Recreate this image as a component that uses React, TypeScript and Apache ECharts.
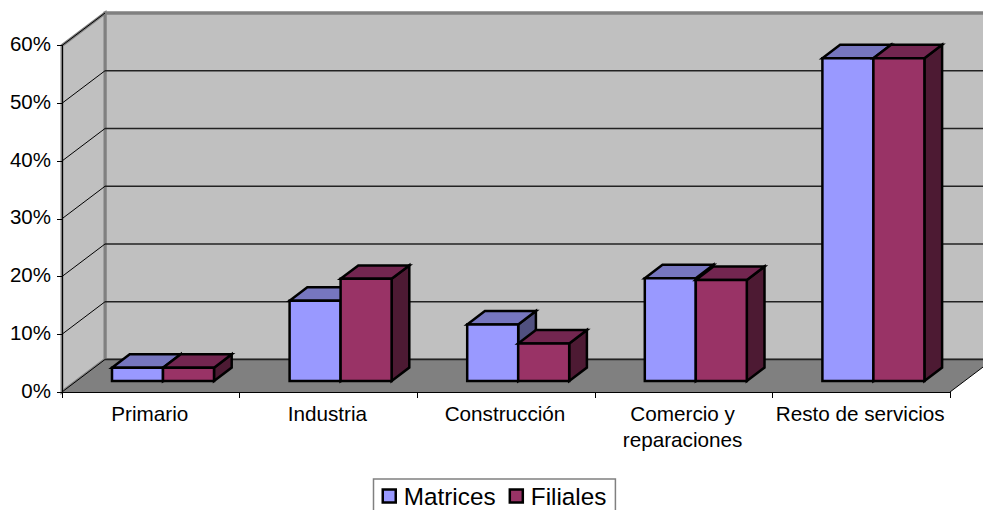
import React, { useEffect, useRef } from "react";
import * as echarts from "echarts";

const categories = ["Primario", "Industria", "Construcción", "Comercio y\nreparaciones", "Resto de servicios"];
const matrices = [2.3, 13.9, 9.8, 17.8, 55.9];
const filiales = [2.3, 17.7, 6.5, 17.5, 55.9];
const gridTicks = [0, 10, 20, 30, 40, 50, 60];

const FONT = "'Liberation Sans', Arial, sans-serif";
const DX = 43;
const DY = 32.5;

const colors = {
  matrices: { front: "#9999ff", top: "#7676bf", side: "#50507f" },
  filiales: { front: "#993366", top: "#732650", side: "#4d1a33" },
};

function wallsItem(params: any, api: any) {
  const c = params.coordSys;
  const l = c.x, r = c.x + c.width, t = c.y, b = c.y + c.height;
  const wall = { fill: "#c0c0c0", stroke: "#808080", lineWidth: 3 };
  return {
    type: "group",
    children: [
      { type: "polygon", shape: { points: [[l + DX, t - DY], [r + DX, t - DY], [r + DX, b - DY], [l + DX, b - DY]] }, style: wall },
      { type: "polygon", shape: { points: [[l, t], [l + DX, t - DY], [l + DX, b - DY], [l, b]] }, style: wall },
      { type: "polygon", shape: { points: [[l, b], [l + DX, b - DY], [r + DX, b - DY], [r, b]] }, style: { fill: "#808080", stroke: "none" } },
    ],
  };
}

function gridItem(params: any, api: any) {
  const c = params.coordSys;
  const v = api.value(1);
  const y = api.coord([0, v])[1];
  const l = c.x, r = c.x + c.width;
  const back = { stroke: v === 60 ? "#808080" : "#222222", lineWidth: v === 60 ? 3 : 1.3 };
  const side = { stroke: "#000000", lineWidth: 1, fill: "none" };
  const children: any[] = [
    { type: "line", shape: { x1: l, y1: y, x2: l + DX, y2: y - DY }, style: side },
  ];
  children.push({ type: "line", shape: { x1: l + DX, y1: y - DY, x2: r + DX, y2: y - DY }, style: back });
  if (v === 0) {
    children.push({ type: "line", shape: { x1: r, y1: y, x2: r + DX, y2: y - DY }, style: side });
  }
  return { type: "group", children };
}

const BAR_W = 51;
const BAR_OFF = 12.2;
const FRONT_DROP = 11;
const BAR_DX = 17.7;
const BAR_DY = 13.4;

function barItem(seriesPos: number, palette: { front: string; top: string; side: string }) {
  return (_params: any, api: any) => {
    const i = api.value(0);
    const v = api.value(1);
    const [cx, yTop0] = api.coord([i, v]);
    const yBase0 = api.coord([i, 0])[1];
    const x = cx + BAR_OFF - BAR_W + BAR_W * seriesPos;
    const yt = yTop0 - FRONT_DROP;
    const yb = yBase0 - FRONT_DROP;
    const edge = { stroke: "#000000", lineWidth: 2.5, lineJoin: "miter" };
    return {
      type: "group",
      children: [
        {
          type: "polygon",
          shape: { points: [[x + BAR_W, yt], [x + BAR_W + BAR_DX, yt - BAR_DY], [x + BAR_W + BAR_DX, yb - BAR_DY], [x + BAR_W, yb]] },
          style: { fill: palette.side, ...edge },
        },
        {
          type: "polygon",
          shape: { points: [[x, yt], [x + BAR_DX, yt - BAR_DY], [x + BAR_W + BAR_DX, yt - BAR_DY], [x + BAR_W, yt]] },
          style: { fill: palette.top, ...edge },
        },
        { type: "rect", shape: { x, y: yt, width: BAR_W, height: yb - yt }, style: { fill: palette.front, ...edge } },
      ],
    };
  };
}

export default function App() {
  const ref = useRef<HTMLDivElement>(null);
  useEffect(() => {
    document.body.style.margin = "0";
    const chart = echarts.init(ref.current!, null, { renderer: "svg" });
    chart.setOption({
      animation: false,
      backgroundColor: "#ffffff",
      grid: { left: 62, width: 888, top: 45.5, height: 346.5 },
      legend: {
        left: 373.5,
        top: 479,
        padding: [5, 9, 7, 8],
        borderColor: "#808080",
        borderWidth: 1.5,
        itemWidth: 13,
        itemHeight: 13,
        itemGap: 13,
        selectedMode: false,
        textStyle: { fontFamily: FONT, fontSize: 24.3, color: "#000000", padding: [0, 0, 0, 3] },
        data: [
          { name: "Matrices", icon: "rect", itemStyle: { color: colors.matrices.front, borderColor: "#000", borderWidth: 2.5 } },
          { name: "Filiales", icon: "rect", itemStyle: { color: colors.filiales.front, borderColor: "#000", borderWidth: 2.5 } },
        ],
      },
      xAxis: {
        type: "category",
        data: categories,
        z: 10,
        axisLine: { lineStyle: { color: "#000000", width: 1 } },
        axisTick: { show: true, length: 6, alignWithLabel: false, lineStyle: { color: "#000000" } },
        axisLabel: { interval: 0, fontFamily: FONT, fontSize: 20.7, color: "#000000", margin: 8, lineHeight: 26, padding: [0, 2, 0, 0] },
      },
      yAxis: {
        type: "value",
        min: 0,
        max: 60,
        interval: 10,
        z: 10,
        axisLine: { show: true, lineStyle: { color: "#000000", width: 1 } },
        axisTick: { show: true, length: 5, lineStyle: { color: "#000000" } },
        splitLine: { show: false },
        axisLabel: { fontFamily: FONT, fontSize: 20.5, color: "#000000", margin: 11, verticalAlign: "bottom", lineHeight: 4, formatter: "{value}%" },
      },
      series: [
        { type: "custom", name: "walls", silent: true, z: 1, data: [[0, 0]], encode: { x: 0, y: 1 }, renderItem: wallsItem },
        { type: "custom", name: "grid", silent: true, z: 2, data: gridTicks.map((t) => [0, t]), encode: { x: 0, y: 1 }, renderItem: gridItem },
        {
          type: "custom", name: "Matrices", silent: true, z: 3,
          itemStyle: { color: colors.matrices.front },
          data: matrices.map((v, i) => [i, v]), encode: { x: 0, y: 1 },
          renderItem: barItem(0, colors.matrices),
        },
        {
          type: "custom", name: "Filiales", silent: true, z: 4,
          itemStyle: { color: colors.filiales.front },
          data: filiales.map((v, i) => [i, v]), encode: { x: 0, y: 1 },
          renderItem: barItem(1, colors.filiales),
        },
      ],
    });
    return () => chart.dispose();
  }, []);
  return <div ref={ref} style={{ width: 983, height: 510 }} />;
}
